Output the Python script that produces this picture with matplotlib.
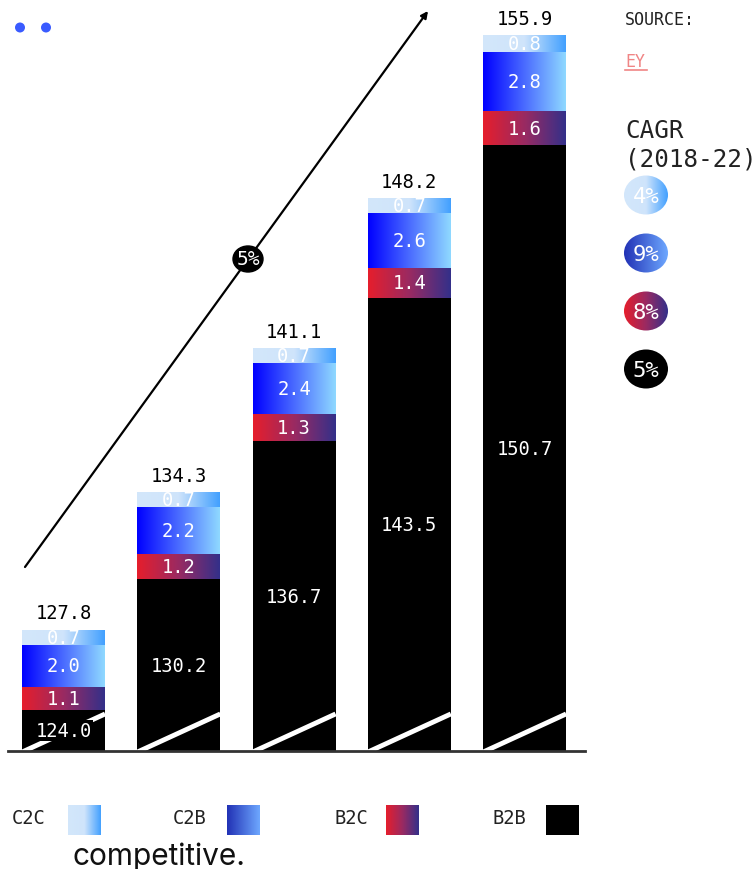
import numpy as np
import matplotlib.pyplot as plt
from matplotlib.colors import LinearSegmentedColormap
from matplotlib.patches import Ellipse, Circle

# data (billions)
years = ['2018', '2019', '2020', '2021', '2022']
b2b = [124.0, 130.2, 136.7, 143.5, 150.7]
b2c = [1.1, 1.2, 1.3, 1.4, 1.6]
c2b = [2.0, 2.2, 2.4, 2.6, 2.8]
c2c = [0.7, 0.7, 0.7, 0.7, 0.8]
totals = [127.8, 134.3, 141.1, 148.2, 155.9]
legend_names = ['C2C', 'C2B', 'B2C', 'B2B']
cagr_labels = ['4%', '9%', '8%', '5%']
overall_cagr = '5%'

MONO = 'DejaVu Sans Mono'
plt.rcParams['font.family'] = MONO

cm_c2c = LinearSegmentedColormap.from_list('c2c', ['#d3e7fb', '#cfe4fb', '#42a0ff'])
cm_c2b = LinearSegmentedColormap.from_list('c2b', ['#0000ff', '#4a6bff', '#8fd9ff'])
cm_b2c = LinearSegmentedColormap.from_list('b2c', ['#e61e2c', '#9a2a62', '#33308a'])
cm_b2b = LinearSegmentedColormap.from_list('b2b', ['#000000', '#000000'])
cm_c2b_leg = LinearSegmentedColormap.from_list('c2bl', ['#2131b5', '#6ea8ff'])

fig = plt.figure(figsize=(7.56, 8.70), dpi=100)

ymin, ymax = 122.08, 157.6
ax = fig.add_axes([8 / 756, 118 / 870, 577 / 756, 752 / 870])
ax.set_xlim(-0.482, 4.524)
ax.set_ylim(ymin, ymax)
ax.axis('off')

grad = np.linspace(0, 1, 256).reshape(1, -1)


def gradient(axis, x0, x1, y0, y1, cmap, clip=None, z=2):
    im = axis.imshow(grad, extent=[x0, x1, y0, y1], cmap=cmap, aspect='auto',
                     interpolation='bicubic', zorder=z)
    if clip is not None:
        im.set_clip_path(clip)
    return im


w = 0.72
x = np.arange(len(years))
for i in x:
    bottom = ymin
    stack = [(b2b[i], cm_b2b), (b2c[i], cm_b2c), (c2b[i], cm_c2b), (c2c[i], cm_c2c)]
    for k, (v, cm) in enumerate(stack):
        top = b2b[i] if k == 0 else bottom + v
        gradient(ax, i - w / 2, i + w / 2, bottom, top, cm)
        kw = dict(bbox=dict(fc='black', ec='none', pad=1)) if (i == 0 and k == 0) else {}
        ax.text(i, (bottom + top) / 2, f'{v:.1f}', color='white', fontsize=13.5,
                ha='center', va='center', zorder=6, **kw)
        bottom = top
    ax.text(i, totals[i] + 0.8, f'{totals[i]:.1f}', color='black', fontsize=13.5,
            ha='center', va='center')
    # axis break stroke
    ax.plot([i - w / 2, i + w / 2], [ymin - 0.05, ymin + 1.75], color='white', lw=3.5,
            solid_capstyle='butt', zorder=4)

ax.plot([-0.482, 4.524], [ymin, ymin], color='#333333', lw=2, clip_on=False, zorder=5)

# overlay in pixel coordinates
ov = fig.add_axes([0, 0, 1, 1], zorder=10)
ov.set_xlim(0, 756)
ov.set_ylim(870, 0)
ov.axis('off')
ov.patch.set_alpha(0)

for cx in (20, 46):
    ov.add_patch(Circle((cx, 28.5), 5, color='#3a5bff', lw=0))

ov.annotate('', xy=(428, 12), xytext=(25, 568),
            arrowprops=dict(arrowstyle='-|>', color='black', lw=1.6, mutation_scale=10,
                            shrinkA=0, shrinkB=0))
ov.add_patch(Ellipse((248, 260), 30, 26, color='black', zorder=11))
ov.text(248, 260, overall_cagr, color='white', fontsize=14, ha='center', va='center', zorder=12)

ov.text(625, 20, 'SOURCE:', fontsize=12, color='#222222', va='center')
ov.text(625, 62, 'EY', fontsize=12, color='#f08585', va='center')
ov.plot([625, 647], [71, 71], color='#f08585', lw=1.2)
ov.text(625, 131, 'CAGR', fontsize=17.5, color='#222222', va='center')
ov.text(625, 160, '(2018-22)', fontsize=17.5, color='#222222', va='center')

badge_maps = [cm_c2c, cm_c2b_leg, cm_b2c, cm_b2b]
for j, (lab, cm) in enumerate(zip(cagr_labels, badge_maps)):
    cy = 196 + j * 58
    e = Ellipse((646, cy), 44, 39, fc='none', ec='none')
    ov.add_patch(e)
    gradient(ov, 624, 668, cy + 20, cy - 20, cm, clip=e, z=11)
    ov.text(646, cy + 1, lab, color='white', fontsize=16, ha='center', va='center', zorder=12)

leg_text_x = [12, 173, 335, 492]
leg_sw_x = [68, 227, 386, 546]
leg_maps = [cm_c2c, cm_c2b_leg, cm_b2c, cm_b2b]
for name, tx, sx, cm in zip(legend_names, leg_text_x, leg_sw_x, leg_maps):
    ov.text(tx, 819, name, fontsize=13.5, color='#222222', va='center')
    gradient(ov, sx, sx + 33, 836, 806, cm, z=11)

ov.text(72, 857, 'competitive.', fontsize=21.5, family='Inter', color='#111111', va='center')

fig.savefig('out.png', dpi=100)
